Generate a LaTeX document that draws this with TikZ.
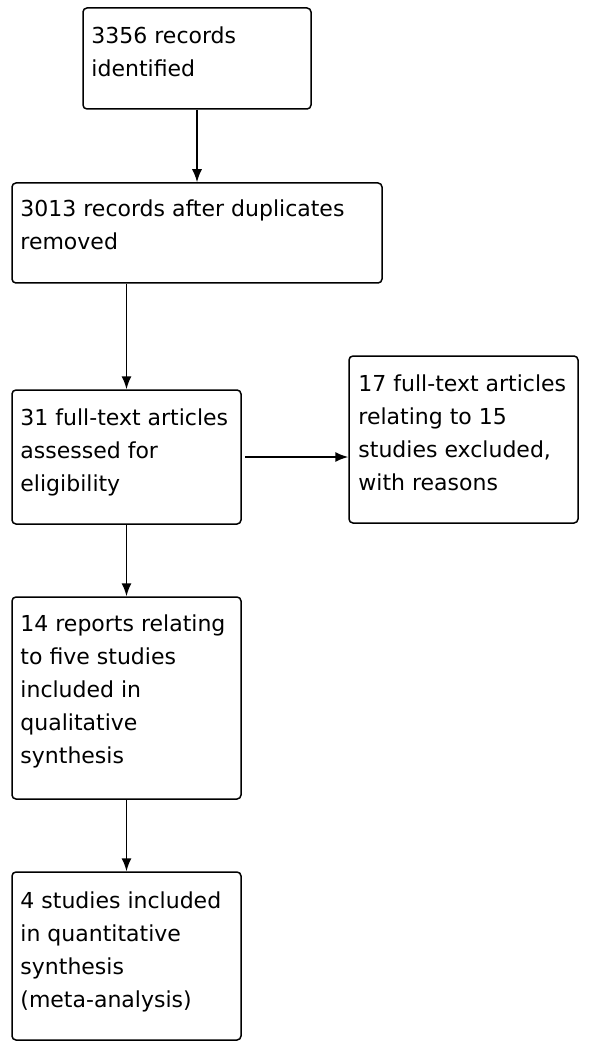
\documentclass[tikz,border=0pt]{standalone}
\usepackage{fontspec}
\setmainfont{DejaVu Sans}
\usetikzlibrary{arrows.meta,calc}
\begin{document}
\begin{tikzpicture}[x=1pt,y=-1pt,
  box/.style={draw=black,line width=1.5pt,rounded corners=4pt,inner sep=0pt},
  txt/.style={anchor=north west,inner sep=0pt,align=left,font=\fontsize{22}{33.2}\selectfont},
  arr/.style={line width=1.5pt,-{Latex[length=13pt,width=10pt]}}]
\useasboundingbox (0,0) rectangle (589,1048);
% boxes
\node[box,minimum width=228pt,minimum height=101pt] (b1) at (197,58.5) {};
\node[box,minimum width=370pt,minimum height=100pt] (b2) at (197,233) {};
\node[box,minimum width=229pt,minimum height=134pt] (b3) at (126.5,457) {};
\node[box,minimum width=229pt,minimum height=167pt] (b6) at (463.5,439.5) {};
\node[box,minimum width=229pt,minimum height=202pt] (b4) at (126.5,698) {};
\node[box,minimum width=229pt,minimum height=168pt] (b5) at (126.5,956) {};
% texts
\node[txt] (t1) at ($(b1.north west)+(9,19)$) {3356 records\\identified};
\node[txt] (t2) at ($(b2.north west)+(9,17)$) {3013 records after duplicates\\removed};
\node[txt] (t3) at ($(b3.north west)+(9,19)$) {31 full-text articles\\assessed for\\eligibility};
\node[txt] (t6) at ($(b6.north west)+(10,19)$) {17 full-text articles\\relating to 15\\studies excluded,\\with reasons};
\node[txt] (t4) at ($(b4.north west)+(9,18)$) {14 reports relating\\to five studies\\included in\\qualitative\\synthesis};
\node[txt] (t5) at ($(b5.north west)+(9,20)$) {4 studies included\\in quantitative\\synthesis\\(meta-analysis)};
% connectors
\draw[arr] (b1.south) -- (b1.south |- b2.north);
\draw[arr] (b3.north |- b2.south) -- (b3.north);
\draw[arr] ($(b3.east)+(3,0)$) -- (b3.east -| b6.west);
\draw[arr] (b3.south) -- (b4.north);
\draw[arr] (b4.south) -- (b5.north);
\end{tikzpicture}
\end{document}
